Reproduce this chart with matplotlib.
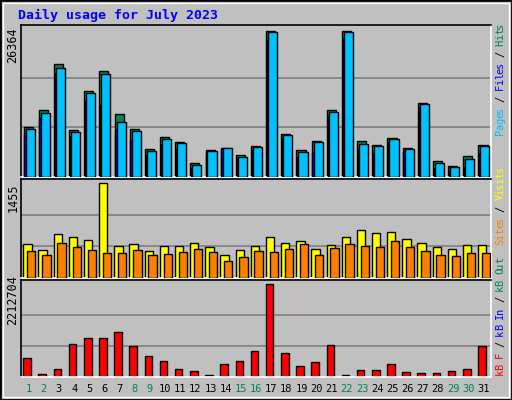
import matplotlib
matplotlib.use("Agg")
import matplotlib.pyplot as plt
import numpy as np

days = list(range(1, 32))
weekend = [1, 2, 8, 9, 15, 16, 22, 23, 29, 30]
hits = [8790, 11780, 20040, 8260, 15290, 18810, 11080, 8440, 4920, 7030, 6150, 2460, 4750, 5100, 3870, 5450,
        25760, 7560, 4750, 6330, 11780, 25850, 6330, 5620, 6860, 5100, 13180, 2810, 1930, 3690, 5620]
files = [8440, 11250, 19340, 7910, 14940, 18280, 9670, 8090, 4570, 6680, 5980, 2110, 4570, 5100, 3520, 5270,
         25580, 7380, 4390, 6150, 11430, 25670, 5800, 5450, 6680, 4920, 12830, 2460, 1760, 3160, 5450]
pages = [7730, 10370, 18460, 7210, 13530, 12660, 8260, 6330, 3870, 5800, 4920, 1580, 4040, 4920, 3340, 4750,
         24260, 6860, 3520, 4220, 10720, 24610, 4920, 4220, 6150, 4570, 12300, 1580, 1050, 1760, 4220]
visits = [522, 428, 678, 632, 585, 1451, 491, 522, 412, 491, 491, 538, 475, 350, 428, 491,
          632, 538, 569, 444, 507, 632, 741, 694, 710, 600, 538, 475, 444, 507, 507]
sites = [412, 350, 538, 475, 428, 381, 381, 428, 350, 366, 397, 444, 397, 266, 319, 412,
         397, 444, 522, 350, 460, 522, 491, 475, 569, 475, 412, 350, 334, 381, 381]
kbytes = [442600, 80500, 201200, 780400, 925200, 925200, 1070100, 732200, 490800, 370100, 201200, 152900,
          56300, 297700, 370100, 611500, 2212704, 563200, 249400, 345900, 756300, 56300, 177000, 177000,
          297700, 128700, 104600, 104600, 152900, 201200, 732200]
max_hits, max_visits, max_kb = 26364, 1455, 2212704

W, H = 512, 400
fig = plt.figure(figsize=(W/100, H/100), dpi=100, facecolor="#c0c0c0")
fig.patches.append(plt.Rectangle((0, 0), 1, 1, transform=fig.transFigure, fill=False,
                                 edgecolor="black", linewidth=2))
fig.patches.append(plt.Rectangle((3/W, 3/H), 1-6/W, 1-6/H, transform=fig.transFigure, fill=False,
                                 edgecolor="white", linewidth=1))
mono = "DejaVu Sans Mono"

def mkax(top, bottom):
    ax = fig.add_axes([21/W, 1-bottom/H, (491-21)/W, (bottom-top)/H])
    ax.set_facecolor("#c0c0c0")
    ax.set_xlim(0.5, 31.5)
    ax.set_xticks([]); ax.set_yticks([])
    for s in ax.spines.values():
        s.set_color("black"); s.set_linewidth(1.2)
    ax.spines['right'].set_color("white"); ax.spines['bottom'].set_color("white")
    return ax

x = np.array(days)
ec = dict(edgecolor="black", linewidth=1)

ax1 = mkax(25, 177)
ax1.set_ylim(0, max_hits * 1.02)
for g in (1/3, 2/3):
    ax1.axhline(max_hits*g, color="#808080", lw=1.2, zorder=0)
ax1.bar(x - 0.33, hits, width=0.6, align="edge", color="#00805c", **ec, zorder=2)
ax1.bar(x - 0.28, pages, width=0.6, align="edge", color="#0000ff", **ec, zorder=3)
ax1.bar(x - 0.2, files, width=0.6, align="edge", color="#00c0ff", **ec, zorder=4)

ax2 = mkax(179, 278)
ax2.set_ylim(0, max_visits * 1.04)
for g in (1/3, 2/3):
    ax2.axhline(max_visits*g, color="#808080", lw=1.2, zorder=0)
ax2.bar(x - 0.35, visits, width=0.55, align="edge", color="#ffff00", **ec, zorder=2)
ax2.bar(x - 0.1, sites, width=0.55, align="edge", color="#ff8000", **ec, zorder=3)

ax3 = mkax(280, 377)
ax3.set_ylim(0, max_kb * 1.04)
for g in (1/3, 2/3):
    ax3.axhline(max_kb*g, color="#808080", lw=1.2, zorder=0)
ax3.bar(x - 0.35, kbytes, width=0.5, align="edge", color="#ff0000", **ec, zorder=2)

fig.text(18/W, 1-15/H, "Daily usage for July 2023", family=mono, weight="bold",
         color="#0000ff", fontsize=9.5, va="center")
for val, yc in ((max_hits, 45), (max_visits, 198), (max_kb, 300)):
    fig.text(13/W, 1-yc/H, str(val), rotation=90, family=mono, fontsize=8.5, ha="center", va="center")

STEP = 5.6
def side(parts, ybottom):
    idx = 0
    for t, c in parts:
        for ch in t:
            if ch != " ":
                fig.text(500/W, 1-(ybottom - idx*STEP)/H, ch, rotation=90, family=mono, fontsize=7.5,
                         color=c, ha="center", va="center")
            idx += 1
side([("Pages ", "#00c0ff"), ("/ ", "#000000"), ("Files ", "#0000ff"), ("/ ", "#000000"), ("Hits", "#00805c")], 132)
side([("Sites ", "#ff8000"), ("/ ", "#000000"), ("Visits", "#ffff00")], 242)
side([("kB F ", "#ff0000"), ("/ ", "#000000"), ("kB In ", "#0000ff"), ("/ ", "#000000"), ("kB Out", "#00805c")], 372)

for d in days:
    xp = 21 + (d - 0.5) / 31 * 470
    fig.text(xp/W, 1-389/H, str(d), family=mono, fontsize=7.5, ha="center", va="center",
             color="#00805c" if d in weekend else "black")

fig.savefig("out.png", dpi=100, facecolor=fig.get_facecolor())
